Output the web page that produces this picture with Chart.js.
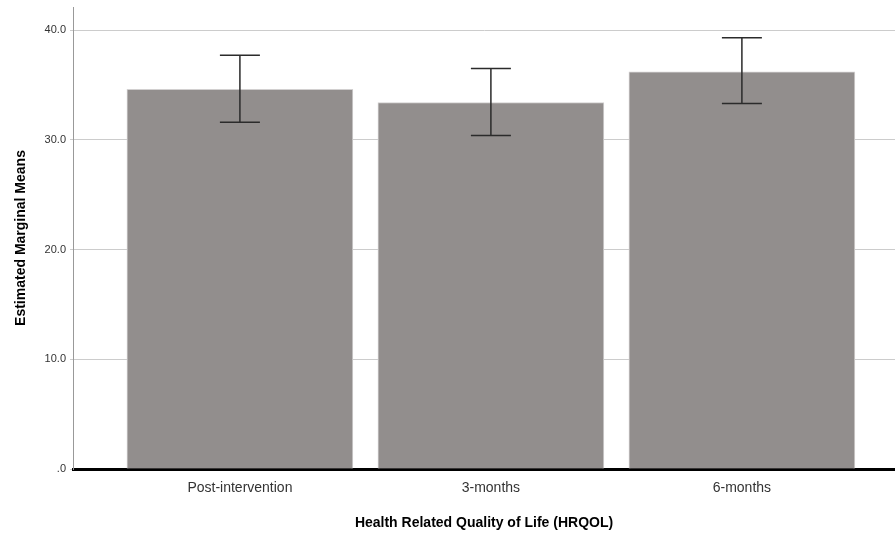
<!DOCTYPE html>
<html>
<head>
<meta charset="utf-8">
<script src="https://cdn.jsdelivr.net/npm/chart.js@4/dist/chart.umd.min.js"></script>
<style>
  body { margin: 0; background: #fff; }
  canvas { display: block; }
</style>
</head>
<body>
<canvas id="chart" width="895" height="533"></canvas>
<script>
const categories = ["Post-intervention", "3-months", "6-months"];
const means = [34.6, 33.4, 36.2];
const lowerCI = [31.6, 30.4, 33.3];
const upperCI = [37.7, 36.5, 39.3];
const yTicks = [0, 10, 20, 30, 40];

// error bars drawn on top of the bars
const errorBars = {
    id: "errorBars",
    afterDatasetsDraw(chart) {
        const ctx = chart.ctx;
        const x = chart.scales.x;
        const y = chart.scales.y;
        ctx.save();
        ctx.strokeStyle = "#2b2b2b";
        ctx.lineWidth = 1.5;
        for (let i = 0; i < categories.length; i++) {
            const cx = x.getPixelForValue(i);
            const top = y.getPixelForValue(upperCI[i]);
            const bottom = y.getPixelForValue(lowerCI[i]);
            ctx.beginPath();
            ctx.moveTo(cx, top);
            ctx.lineTo(cx, bottom);
            ctx.moveTo(cx - 20, top);
            ctx.lineTo(cx + 20, top);
            ctx.moveTo(cx - 20, bottom);
            ctx.lineTo(cx + 20, bottom);
            ctx.stroke();
        }
        ctx.restore();
    }
};

const fontFamily = "'Liberation Sans', Arial, sans-serif";

new Chart(document.getElementById("chart"), {
    type: "bar",
    data: {
        datasets: [{
            data: categories.map((c, i) => ({ x: i, y: means[i] })),
            backgroundColor: "#928e8d",
            borderColor: "#d2d0d0",
            borderWidth: 1,
            barThickness: 226
        }]
    },
    options: {
        responsive: false,
        animation: false,
        layout: { padding: { top: 7, right: 0, left: 0, bottom: 0 } },
        plugins: {
            legend: { display: false },
            tooltip: { enabled: false }
        },
        scales: {
            x: {
                type: "linear",
                offset: false,
                min: -0.665,
                max: 2.61,
                afterBuildTicks: axis => { axis.ticks = categories.map((c, i) => ({ value: i })); },
                afterFit: axis => { axis.height = 64; },
                grid: { display: false, drawTicks: false },
                border: { display: true, color: "#000", width: 3 },
                ticks: {
                    padding: 11,
                    color: "#333",
                    font: { family: fontFamily, size: 14 },
                    callback: v => categories[v]
                },
                title: {
                    display: true,
                    text: "Health Related Quality of Life (HRQOL)",
                    color: "#000",
                    font: { family: fontFamily, size: 14, weight: "bold" },
                    padding: { top: 0, bottom: 1 }
                }
            },
            y: {
                min: 0,
                max: 42.1,
                afterBuildTicks: axis => { axis.ticks = yTicks.map(v => ({ value: v })); },
                afterFit: axis => { axis.width = 73; axis.paddingTop = 0; },
                grid: { color: "#cccccc", tickLength: 3 },
                border: { color: "#999", width: 1 },
                ticks: {
                    padding: 4,
                    color: "#333",
                    font: { family: fontFamily, size: 11 },
                    callback: v => v === 0 ? ".0" : v.toFixed(1)
                },
                title: {
                    display: true,
                    text: "Estimated Marginal Means",
                    color: "#000",
                    font: { family: fontFamily, size: 14, weight: "bold" },
                    padding: { top: 13, bottom: 0 }
                }
            }
        }
    },
    plugins: [errorBars]
});
</script>
</body>
</html>
